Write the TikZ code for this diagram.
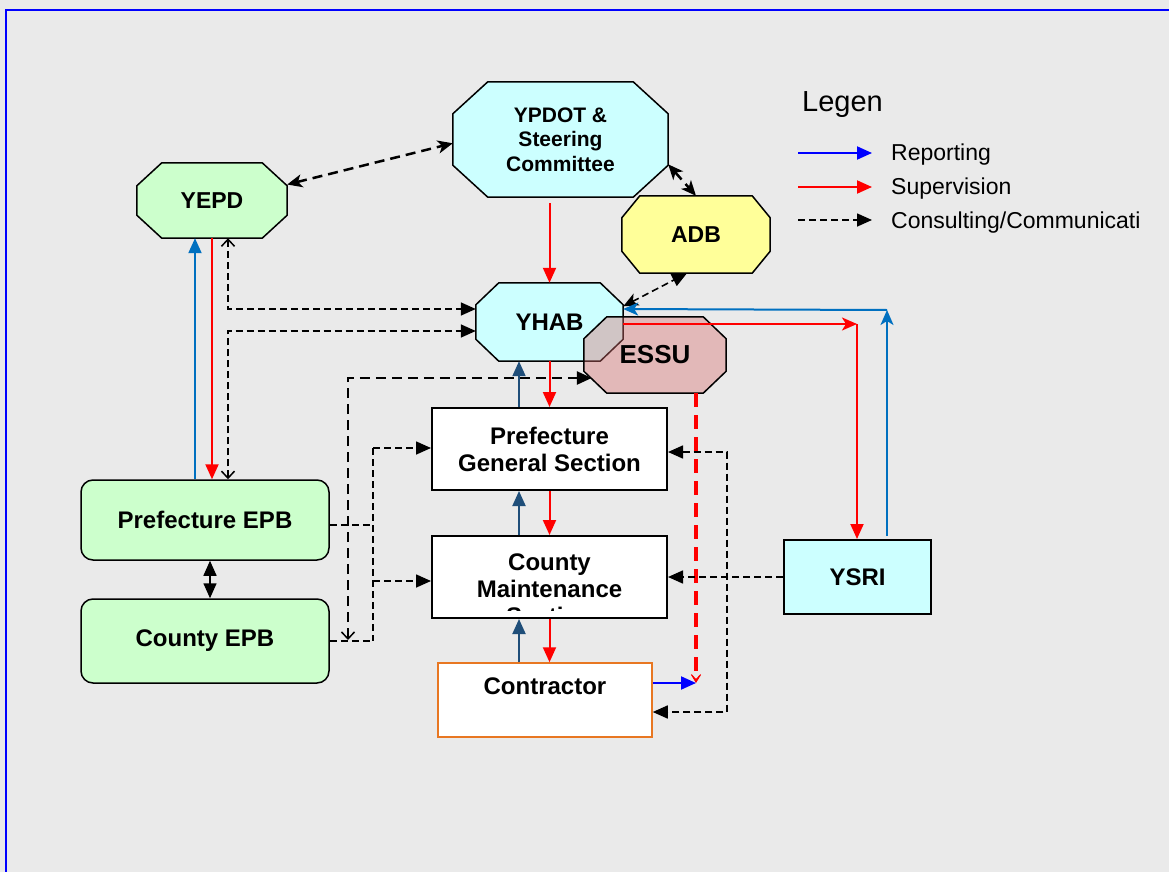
\documentclass[tikz,border=0pt]{standalone}
\usepackage{fontspec}
\setmainfont{Liberation Sans}
\usetikzlibrary{arrows.meta, positioning, calc, backgrounds}
\definecolor{bgGrey}{RGB}{234,234,234}
\definecolor{frameBlue}{RGB}{0,0,255}
\definecolor{boxCyan}{RGB}{204,255,255}
\definecolor{boxGreen}{RGB}{204,255,204}
\definecolor{boxYellow}{RGB}{255,255,153}
\definecolor{essuRed}{RGB}{215,110,110}
\definecolor{repBlue}{RGB}{0,112,192}
\definecolor{upNavy}{RGB}{31,78,121}
\definecolor{supRed}{RGB}{255,0,0}
\definecolor{ctrOrange}{RGB}{232,119,34}
% octagon outline round a node: name, x chamfer, y chamfer
\newcommand{\octout}[3]{($(#1.north west)+(#2,0)$) -- ($(#1.north east)+(-#2,0)$) -- ($(#1.north east)+(0,#3)$) -- ($(#1.south east)+(0,-#3)$) -- ($(#1.south east)+(-#2,0)$) -- ($(#1.south west)+(#2,0)$) -- ($(#1.south west)+(0,-#3)$) -- ($(#1.north west)+(0,#3)$) -- cycle}

\begin{document}
\begin{tikzpicture}[
    x=1pt, y=-1pt,
    tipTri/.tip={Triangle[length=15pt, width=13pt]},
    tipStl/.tip={Stealth[length=15pt, width=13pt, inset=4pt]},
    tipBarb/.tip={Straight Barb[length=7pt, width=13pt, line width=1.5pt]},
    octa/.style={rectangle, inner sep=0pt, align=center, font=\bfseries\fontsize{23}{26}\selectfont},
    octline/.style={draw=black, line width=1.5pt, line join=miter},
    sqbox/.style={rectangle, draw=black, line width=2pt, fill=white, inner sep=0pt, align=center, font=\bfseries\fontsize{24}{27}\selectfont},
    rbox/.style={rectangle, draw=black, line width=1.5pt, fill=boxGreen, rounded corners=12pt, inner sep=0pt, align=center, font=\bfseries\fontsize{24}{27}\selectfont},
    btext/.style={inner sep=0pt, align=center, font=\bfseries\fontsize{24}{27}\selectfont},
    legtext/.style={anchor=base west, inner sep=0pt, font=\fontsize{23}{26}\selectfont},
    sup/.style={draw=supRed, line width=2pt, -{tipTri}},
    supdash/.style={draw=supRed, line width=4.5pt, dash pattern=on 14pt off 8pt, -{Stealth[length=13pt, width=16pt, inset=9pt, line width=1pt]}},
    rep/.style={draw=repBlue, line width=2pt, -{tipTri}},
    repPure/.style={draw=frameBlue, line width=2pt, -{tipTri}},
    upn/.style={draw=upNavy, line width=2pt, -{tipTri}},
    con/.style={draw=black, line width=1.6pt, dash pattern=on 7pt off 4pt},
    conthick/.style={draw=black, line width=2.5pt, dash pattern=on 10pt off 6pt}
]

\useasboundingbox (0,0) rectangle (1169,872);

% Top: committee, YEPD, ADB
\node[octa, minimum width=215pt, minimum height=115pt, font=\bfseries\fontsize{21}{24.5}\selectfont] (ypdot) at (560.5,139.5) {YPDOT \&\\Steering\\Committee};
\node[octa, minimum width=150pt, minimum height=75pt] (yepd) at (212,200.5) {YEPD};
\node[octa, minimum width=148pt, minimum height=77pt] (adb) at (696,234.5) {ADB};

% YHAB with ESSU over it
\node[octa, minimum width=147pt, minimum height=78pt, font=\bfseries\fontsize{24}{27}\selectfont] (yhab) at (549.5,322) {YHAB};
\node[octa, minimum width=142pt, minimum height=76pt, font=\bfseries\fontsize{26}{29}\selectfont] (essu) at (655,355) {ESSU};

% Background, frame and octagon bodies
\begin{scope}[on background layer]
  \fill[bgGrey] (0,0) rectangle (1169,872);
  \draw[frameBlue, line width=2pt] (6,900) -- (6,10) -- (1200,10);
  \draw[octline, fill=boxCyan] \octout{ypdot}{35}{32};
  \draw[octline, fill=boxGreen] \octout{yepd}{25}{23};
  \draw[octline, fill=boxYellow] \octout{adb}{18}{22};
  \draw[octline, fill=boxCyan] \octout{yhab}{23}{22};
  \draw[octline, fill=essuRed, fill opacity=0.4] \octout{essu}{23}{22};
\end{scope}

% Middle column
\node[sqbox, minimum width=235pt, minimum height=82pt] (pgs) at (549.5,449) {Prefecture\\General Section};
\node[sqbox, minimum width=235pt, minimum height=82pt] (cms) at (549.5,577) {};
\begin{scope}
  \clip ($(cms.south west)+(4,-9)$) rectangle ($(cms.north east)+(-4,4)$);
  \node[btext] (cmstxt) at ($(cms.center)+(0,12)$) {County\\Maintenance\\Section};
\end{scope}
\node[sqbox, draw=ctrOrange, line width=1.5pt, minimum width=214pt, minimum height=74pt] (ctr) at (545,700) {Contractor\\\mbox{}};

% Right: YSRI
\node[sqbox, fill=boxCyan, minimum width=147pt, minimum height=74pt] (ysri) at (857.5,577) {YSRI};

% Left: EPBs
\node[rbox, minimum width=248pt, minimum height=80pt] (pepb) at (205,520) {Prefecture EPB};
\node[rbox, minimum width=248pt, minimum height=84pt] (cepb) at (205,641) {County EPB};

% Legend
\node[anchor=base west, inner sep=0pt, font=\fontsize{29}{32}\selectfont] (legtitle) at (802,112) {Legen};
\node[legtext] (lrep) at (891,160) {Reporting};
\node[legtext] (lsup) at (891,194) {Supervision};
\node[legtext] (lcon) at (891,228) {Consulting/Communicati};
\coordinate (lrepS) at (798,153);
\coordinate (lrepE) at (872,153);
\coordinate (lsupS) at (798,187);
\coordinate (lsupE) at (872,187);
\coordinate (lconS) at (798,220);
\coordinate (lconE) at (872,220);
\draw[repPure] (lrepS) -- (lrepE);
\draw[sup] (lsupS) -- (lsupE);
\draw[con, -{tipTri}] (lconS) -- (lconE);

% Consulting links at the top
\draw[conthick, {tipStl}-{tipStl}] (yepd.12) -- (ypdot.182);
\draw[conthick, {tipStl}-{tipStl}] (ypdot.-13) -- (adb.north);
\draw[con, {tipStl}-{tipTri}] (yhab.12) -- ($(adb.south)+(-9,0)$);

% Supervision / reporting chain
\draw[sup] ($(ypdot.south -| yhab.north)+(0,6)$) -- (yhab.north);
\draw[sup] (yhab.south) -- (pgs.north);
\draw[upn] ($(pgs.north)+(-30.5,0)$) -- ($(pgs.north |- yhab.south)+(-30.5,0)$);
\draw[sup] (pgs.south) -- (cms.north);
\draw[upn] ($(cms.north)+(-30.5,0)$) -- ($(pgs.south)+(-30.5,0)$);
\draw[sup] (cms.south) -- (cms.south |- ctr.north);
\draw[upn] ($(cms.south |- ctr.north)+(-30.5,0)$) -- ($(cms.south)+(-30.5,0)$);

% ESSU down to contractor level
\coordinate (essuEnd) at (696,683);
\draw[supdash] ($(essu.south)+(41,0)$) -- (essuEnd);
\draw[repPure] (ctr.east |- essuEnd) -- (essuEnd);
\draw[con, {tipTri}-{tipTri}] ($(pgs.east)+(0,3)$) -- ++(59,0) |- ($(ctr.east)+(0,12)$);

% YSRI links
\coordinate (supCorner) at (857,324);
\coordinate (repCorner) at (887,310);
\draw[sup, -{tipStl}] ($(yhab.east)+(0,2)$) -- (supCorner);
\draw[sup] (supCorner) -- (supCorner |- ysri.north);
\draw[rep, -{tipStl}] ($(ysri.north)+(29.5,-3)$) -- (repCorner);
\draw[rep, -{tipStl}] (repCorner) -- (yhab.10);
\draw[con, -{tipTri}] (ysri.west) -- (cms.east);

% YEPD and EPBs
\draw[con, {tipBarb}-{tipTri}] ($(yepd.south)+(16,0)$) |- ($(yhab.west)+(0,-13)$);
\draw[con, {tipBarb}-{tipTri}] ($(pepb.north)+(23,0)$) |- ($(yhab.west)+(0,9)$);
\draw[rep] ($(pepb.north)+(-10,0)$) -- ($(pepb.north |- yepd.south)+(-10,0)$);
\draw[sup] (yepd.south) -- (yepd.south |- pepb.north);
\draw[black, line width=1.5pt, {tipTri}-{tipTri}] ($(pepb.south)+(5,0)$) -- ($(cepb.north)+(5,0)$);

% EPB bus to the sections
\coordinate (busTop) at (373,448);
\coordinate (busBot) at (373,641);
\draw[con] (busTop) -- (busBot);
\draw[con] ($(pepb.east)+(0,5)$) -- ($(pepb.east -| busTop)+(0,5)$);
\draw[con] (cepb.east) -- (cepb.east -| busBot);
\draw[con, -{tipTri}] (busTop) -- (busTop -| pgs.west);
\draw[con, -{tipTri}] ($(cms.west -| busTop)+(0,4)$) -- ($(cms.west)+(0,4)$);
\coordinate (essuDrop) at (348,640);
\draw[conthick, {tipBarb}-{tipTri}] (essuDrop) |- ($(essu.west)+(8,23)$);

\end{tikzpicture}
\end{document}
